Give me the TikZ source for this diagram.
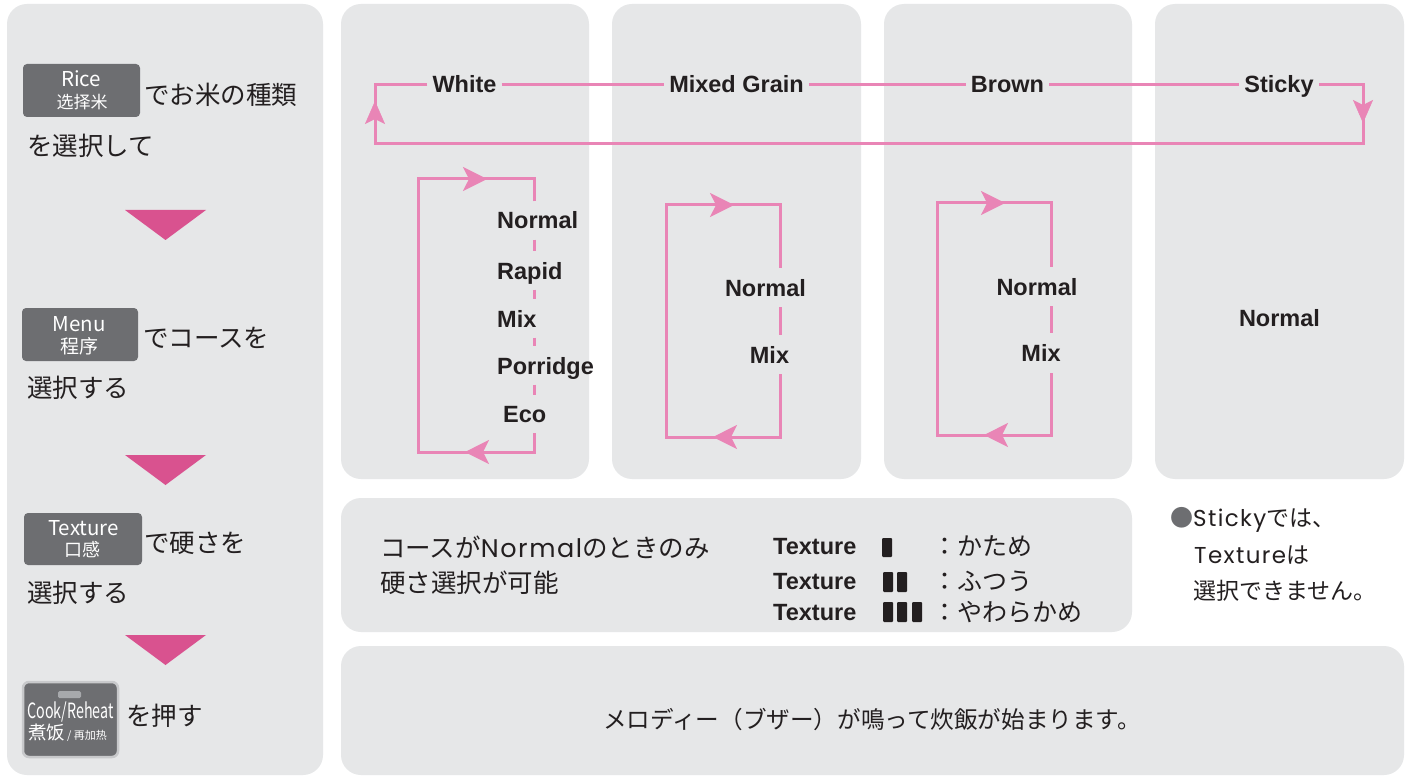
\documentclass[tikz,border=0pt]{standalone}
\usepackage{fontspec}
\usepackage{graphicx}
\usetikzlibrary{arrows.meta}
\setmainfont{Liberation Sans}
\newfontfamily\jpfont{Noto Sans CJK JP}
\newfontfamily\scfont{Noto Sans CJK SC}
\newfontfamily\jplat{Poppins}[LetterSpace=6]
\newcommand\lat[1]{{\jplat #1}}
\definecolor{panel}{HTML}{E6E7E8}
\definecolor{ink}{HTML}{231F20}
\definecolor{loopc}{HTML}{E985B6}
\definecolor{tri}{HTML}{D9528F}
\definecolor{btn}{HTML}{6D6E71}
\definecolor{btnedge}{HTML}{C8C9CB}
\definecolor{led}{HTML}{A7A9AC}
\begin{document}
\begin{tikzpicture}[x=1pt,y=-1pt,
  panelbox/.style={fill=panel,rounded corners=20pt},
  btnbox/.style={fill=btn,rounded corners=4pt},
  loopline/.style={draw=loopc,line width=3pt},
  looparrow/.style={draw=loopc,line width=3pt,-{Stealth[length=24pt,width=24pt,inset=6pt,line width=0.5pt]}},
  toparrow/.style={draw=loopc,line width=3pt,-{Stealth[length=23pt,width=20pt,inset=5pt,line width=0.5pt]}},
  lab/.style={font=\fontsize{23.5pt}{28pt}\selectfont\bfseries,text=ink,text height=17pt,text depth=0pt,inner xsep=5pt,inner ysep=0pt},
  vlab/.style={lab,inner xsep=0pt,inner ysep=10.5pt},
  jp/.style={font=\jpfont\fontsize{#1pt}{#1pt}\selectfont,text=ink,text height={0.88*#1pt},text depth={0.12*#1pt},inner sep=0pt},
  btxt/.style={font=\scfont\fontsize{#1pt}{#1pt}\selectfont,text=white,inner sep=0pt},
  bcjk/.style={btxt=#1,text height={0.88*#1pt},text depth={0.12*#1pt}},
  bar/.style={fill=ink,rounded corners=1pt},
  triangle/.style={fill=tri}
]
\useasboundingbox (0,0) rectangle (1411,778);
\fill[white] (0,0) rectangle (1411,778);

% panels
\path[panelbox] (7,4) rectangle (323,775);
\path[panelbox] (341,4) rectangle (589,479);
\path[panelbox] (612,4) rectangle (861,479);
\path[panelbox] (884,4) rectangle (1132,479);
\path[panelbox] (1155,4) rectangle (1404,479);
\path[panelbox] (341,498) rectangle (1132,632);
\path[panelbox] (341,646) rectangle (1404,775);

% ---------- left panel ----------
\path[btnbox] (23,64) rectangle (140,117);
\node[btxt=20.5,anchor=base] (riceL) at (81,87) {Rice};
\node[bcjk=17] (riceC) at (82,102) {选择米};
\node[jp=25.5,anchor=west] (t1a) at (144,95) {でお米の種類};
\node[jp=25.5,anchor=west] (t1b) at (27,146) {を選択して};
\fill[triangle] (125,210) -- (206,210) -- (165.5,240) -- cycle;

\path[btnbox] (22,308) rectangle (138,361);
\node[btxt=20.5,anchor=base] (menuL) at (79,331) {Menu};
\node[bcjk=19] (menuC) at (79,346.5) {程序};
\node[jp=25.5,anchor=west] (t2a) at (143,337.5) {でコースを};
\node[jp=25.5,anchor=west] (t2b) at (27,387.5) {選択する};
\fill[triangle] (125,455) -- (206,455) -- (165.5,485) -- cycle;

\path[btnbox] (24,513) rectangle (142,565);
\node[btxt=20.5,anchor=base] (texL) at (83.5,535) {Texture};
\node[bcjk=18] (texC) at (82,550) {口感};
\node[jp=25.5,anchor=west] (t3a) at (144,543) {で硬さを};
\node[jp=25.5,anchor=west] (t3b) at (27,593) {選択する};
\fill[triangle] (125,635) -- (206,635) -- (165.5,665) -- cycle;

\path[fill=btn,draw=btnedge,line width=2.5pt,rounded corners=6pt] (23,682) rectangle (118,757);
\path[fill=led,rounded corners=1.5pt] (58,691) rectangle (81,698);
\node[btxt=21,anchor=base] (cookL) at (70.5,718) {\scalebox{0.68}[1]{Cook/Reheat}};
\node[bcjk=18.5,anchor=west] (cookC) at (28,732) {煮饭{\fontsize{11pt}{11pt}\selectfont\,/ 再加热}};
\node[jp=25.5,anchor=west] (t4) at (126,716) {を押す};

% ---------- top loop ----------
\node[lab] (white) at (464.5,84.5) {White};
\node[lab] (mixed) at (736.5,84.5) {Mixed Grain};
\node[lab] (brown) at (1007.5,84.5) {Brown};
\node[lab] (sticky) at (1279,84.5) {Sticky};
\coordinate (tl) at (375,84.5);
\coordinate (tr) at (1363,84.5);
\coordinate (br) at (1363,143.5);
\coordinate (bl) at (375,143.5);
\draw[loopline] (white.west) -- (tl) -- (bl) -- (br) -- (tr) -- (sticky.east);
\draw[loopline] (white.east) -- (mixed.west);
\draw[loopline] (mixed.east) -- (brown.west);
\draw[loopline] (brown.east) -- (sticky.west);
\coordinate (ta1) at (375,125);
\coordinate (ta1t) at (375,101);
\draw[toparrow] (ta1) -- (ta1t);
\coordinate (ta2) at (1363,99);
\coordinate (ta2t) at (1363,123);
\draw[toparrow] (ta2) -- (ta2t);

% ---------- White loop ----------
\node[vlab,anchor=west] (wN) at (497,220.5) {Normal};
\node[vlab,anchor=west] (wR) at (497,270.5) {Rapid};
\node[vlab,anchor=west] (wM) at (497,318.5) {Mix};
\node[vlab,anchor=west] (wP) at (497,365.5) {Porridge};
\node[vlab,anchor=west] (wE) at (503,414) {Eco};
\coordinate (wtl) at (418,179);
\coordinate (wtr) at (534,179);
\coordinate (wbr) at (534,452);
\coordinate (wbl) at (418,452);
\draw[loopline] (wN.north -| wtr) -- (wtr) -- (wtl) -- (wbl) -- (wbr) -- (wE.south -| wbr);
\draw[loopline] (wN.south -| wtr) -- (wR.north -| wtr);
\draw[loopline] (wR.south -| wtr) -- (wM.north -| wtr);
\draw[loopline] (wM.south -| wtr) -- (wP.north -| wtr);
\draw[loopline] (wP.south -| wtr) -- (wE.north -| wtr);
\coordinate (wa1) at (462,179); \coordinate (wa1t) at (487,179);
\draw[looparrow] (wa1) -- (wa1t);
\coordinate (wa2) at (490,452); \coordinate (wa2t) at (465,452);
\draw[looparrow] (wa2) -- (wa2t);

% ---------- Mixed Grain loop ----------
\node[vlab,inner ysep=11pt] (mN) at (765.5,287.5) {Normal};
\node[vlab,inner ysep=11pt] (mM) at (769.5,354.5) {Mix};
\coordinate (mtl) at (666,205);
\coordinate (mtr) at (780,205);
\coordinate (mbr) at (780,437);
\coordinate (mbl) at (666,437);
\draw[loopline] (mN.north -| mtr) -- (mtr) -- (mtl) -- (mbl) -- (mbr) -- (mM.south -| mbr);
\draw[loopline] (mN.south -| mtr) -- (mM.north -| mtr);
\coordinate (ma1) at (709,205); \coordinate (ma1t) at (734,205);
\draw[looparrow] (ma1) -- (ma1t);
\coordinate (ma2) at (738,437); \coordinate (ma2t) at (713,437);
\draw[looparrow] (ma2) -- (ma2t);

% ---------- Brown loop ----------
\node[vlab,inner ysep=11pt] (bN) at (1037,286.5) {Normal};
\node[vlab,inner ysep=11pt] (bM) at (1041,353) {Mix};
\coordinate (btl) at (937,203);
\coordinate (btr) at (1051,203);
\coordinate (bbr) at (1051,435);
\coordinate (bbl) at (937,435);
\draw[loopline] (bN.north -| btr) -- (btr) -- (btl) -- (bbl) -- (bbr) -- (bM.south -| bbr);
\draw[loopline] (bN.south -| btr) -- (bM.north -| btr);
\coordinate (ba1) at (980,203); \coordinate (ba1t) at (1005,203);
\draw[looparrow] (ba1) -- (ba1t);
\coordinate (ba2) at (1009,435); \coordinate (ba2t) at (984,435);
\draw[looparrow] (ba2) -- (ba2t);

% ---------- Sticky ----------
\node[lab] (sN) at (1279.5,318) {Normal};

% ---------- middle panel ----------
\node[jp=25.5,anchor=west] (cond1) at (380,548) {コースが\lat{Normal}のときのみ};
\node[jp=25.5,anchor=west] (cond2) at (380,583) {硬さ選択が可能};
\node[lab,anchor=west,inner xsep=0pt] (x1) at (773,546) {Texture};
\node[lab,anchor=west,inner xsep=0pt] (x2) at (773,581) {Texture};
\node[lab,anchor=west,inner xsep=0pt] (x3) at (773,612) {Texture};
\path[bar] (882,538) rectangle (892,557);
\path[bar] (883,572) rectangle (893,592);
\path[bar] (897,572) rectangle (907,592);
\path[bar] (883,602) rectangle (893,622);
\path[bar] (897,602) rectangle (907,622);
\path[bar] (912,602) rectangle (922,622);
\node[jp=25,anchor=west] (k1) at (932,546) {：かため};
\node[jp=25,anchor=west] (k2) at (932,581) {：ふつう};
\node[jp=25,anchor=west] (k3) at (932,612) {：やわらかめ};

% ---------- sticky note ----------
\node[jp=23,anchor=west] (sn1) at (1170,518) {{\color{btn}●}\lat{Sticky}では、};
\node[jp=23,anchor=west] (sn2) at (1194,555) {\lat{Texture}は};
\node[jp=23,anchor=west] (sn3) at (1193,591) {選択できません。};

% ---------- bottom ----------
\node[jp=23.6] (melody) at (872,720) {メロディー（ブザー）が鳴って炊飯が始まります。};
\end{tikzpicture}
\end{document}
